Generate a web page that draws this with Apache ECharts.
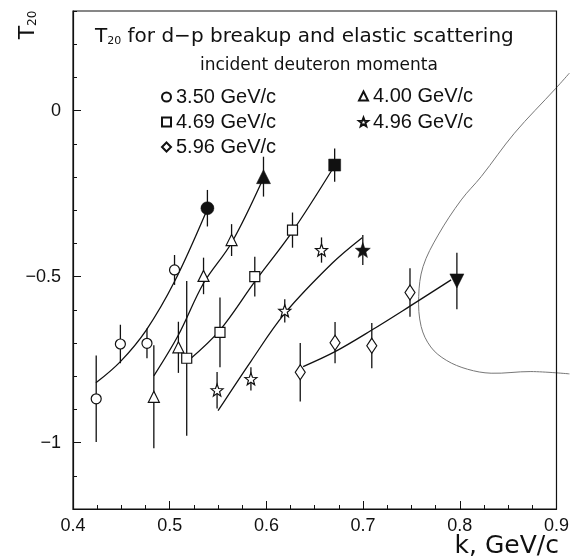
<!DOCTYPE html>
<html><head><meta charset="utf-8">
<script src="https://cdn.jsdelivr.net/npm/echarts@6/dist/echarts.min.js"></script>
<style>html,body{margin:0;padding:0;background:#fff}#c{width:572px;height:559px}</style>
</head><body><div id="c"></div>
<script>
// ---- data ----
const names = ['3.50 GeV/c','4.00 GeV/c','4.69 GeV/c','4.96 GeV/c','5.96 GeV/c'];
const k350 = [0.424, 0.449, 0.4765, 0.505];
const t350 = [-0.868, -0.703, -0.701, -0.480];
const e350 = [0.13, 0.058, 0.045, 0.045];
const k400 = [0.4836, 0.509, 0.535, 0.564];
const t400 = [-0.862, -0.713, -0.498, -0.390];
const e400 = [0.155, 0.077, 0.055, 0.048];
const k469 = [0.5176, 0.552, 0.588, 0.627];
const t469 = [-0.746, -0.668, -0.500, -0.360];
const e469 = [0.233, 0.105, 0.06, 0.053];
const k496 = [0.549, 0.584, 0.619, 0.657];
const t496 = [-0.842, -0.808, -0.603, -0.420];
const e496 = [0.055, 0.035, 0.035, 0.038];
const k596 = [0.635, 0.671, 0.709, 0.7485];
const t596 = [-0.788, -0.699, -0.708, -0.548];
const e596 = [0.088, 0.062, 0.068, 0.073];
// elastic scattering points (filled), one per momentum
const kEl = [0.539, 0.597, 0.6706, 0.6997, 0.797];
const tEl = [-0.294, -0.199, -0.164, -0.420, -0.513];
const eEl = [0.055, 0.06, 0.05, 0.045, 0.085];
// fit curves
const fit350 = [[0.4237,-0.82],[0.449,-0.756],[0.4758,-0.661],[0.505,-0.515],[0.537,-0.31]];
const fit400 = [[0.4836,-0.799],[0.509,-0.676],[0.535,-0.520],[0.564,-0.398],[0.596,-0.209]];
const fit469 = [[0.520,-0.751],[0.552,-0.661],[0.588,-0.515],[0.6267,-0.365],[0.6678,-0.179]];
const fit496 = [[0.550,-0.904],[0.584,-0.755],[0.619,-0.611],[0.668,-0.460],[0.699,-0.383]];
const fit596 = [[0.638,-0.771],[0.671,-0.726],[0.709,-0.661],[0.7485,-0.589],[0.791,-0.510]];
// elastic theory curve
const elCurve = [[0.9134,0.113],[0.8993,0.067],[0.8565,-0.068],[0.8221,-0.199],[0.8015,-0.269],[0.7776,-0.375],[0.7620,-0.470],[0.7575,-0.560],[0.7600,-0.650],[0.7700,-0.712],[0.7860,-0.752],[0.8080,-0.779],[0.8324,-0.791],[0.8735,-0.786],[0.9134,-0.793]];
const yLabelValues = [-1, -0.5, 0];

// ---- styling helpers ----
function starPath(){
  let d = '';
  for (let i = 0; i < 10; i++){
    const r = i % 2 ? 0.42 : 1;
    const a = -Math.PI/2 + i*Math.PI/5;
    const x = (50 + 50*r*Math.cos(a)).toFixed(2), y = (52 + 50*r*Math.sin(a)).toFixed(2);
    d += (i ? 'L' : 'M') + x + ' ' + y + ' ';
  }
  return 'path://' + d + 'Z';
}
const STAR = starPath();
const openSym = [
  {symbol:'circle', size:10},
  {symbol:'triangle', size:11},
  {symbol:'rect', size:10},
  {symbol:STAR, size:12},
  {symbol:'diamond', size:[10,15]}
];
const elSym = [
  {symbol:'circle', size:13, rot:0},
  {symbol:'triangle', size:14, rot:0},
  {symbol:'rect', size:12, rot:0},
  {symbol:STAR, size:15, rot:0},
  {symbol:'triangle', size:14, rot:180}
];
const groups = [[k350,t350,e350,fit350],[k400,t400,e400,fit400],[k469,t469,e469,fit469],[k496,t496,e496,fit496],[k596,t596,e596,fit596]];

function errRender(params, api){
  const x = api.value(0), y = api.value(1), e = api.value(2);
  const p1 = api.coord([x, y + e]), p2 = api.coord([x, y - e]);
  return {type:'line', shape:{x1:p1[0], y1:p1[1], x2:p2[0], y2:p2[1]}, style:{stroke:'#111', lineWidth:1.3}};
}
function curveRender(params, api){
  if (params.dataIndex !== 0) return null;
  const pts = elCurve.map(p => api.coord(p));
  return {type:'polyline', shape:{points:pts, smooth:0.35}, style:{stroke:'#777', lineWidth:1, fill:null}};
}
function frameRender(params, api){
  const cs = params.coordSys;
  return {type:'rect', shape:{x:cs.x, y:cs.y, width:cs.width, height:cs.height},
    style:{stroke:'#111', lineWidth:1.2, fill:null}};
}

const series = [];
series.push({type:'custom', renderItem:frameRender, data:[[0.4,-1.2]], encode:{x:0,y:1}, clip:false, z:10, silent:true});
series.push({type:'custom', renderItem:curveRender, data:elCurve, encode:{x:0,y:1}, clip:false, z:1, silent:true});
groups.forEach((g, i) => {
  const [ks, ts, es, fit] = g;
  series.push({type:'line', data:fit, symbol:'none', smooth:0.35, lineStyle:{color:'#111', width:1.3}, z:2, silent:true});
  series.push({type:'custom', renderItem:errRender, data:ks.map((k,j)=>[k, ts[j], es[j]]), encode:{x:0,y:1}, z:3, silent:true});
  series.push({type:'scatter', name:names[i], data:ks.map((k,j)=>[k, ts[j]]),
    symbol:openSym[i].symbol, symbolSize:openSym[i].size,
    itemStyle:{color:'#fff', borderColor:'#111', borderWidth:1.2, opacity:1}, z:5});
});
series.push({type:'custom', renderItem:errRender, data:kEl.map((k,j)=>[k, tEl[j], eEl[j]]), encode:{x:0,y:1}, z:3, silent:true});
series.push({type:'scatter', data:kEl.map((k,j)=>({value:[k, tEl[j]], symbol:elSym[j].symbol, symbolSize:elSym[j].size, symbolRotate:elSym[j].rot})),
  itemStyle:{color:'#111', borderColor:'#111', borderWidth:0.5, opacity:1}, z:6});

const legendPos = [[161,87],[358,86],[161,112],[358,112],[161,137]];
const legends = names.map((n,i)=>({
  data:[n], left:legendPos[i][0], top:legendPos[i][1], orient:'horizontal', padding:0,
  itemWidth:9, itemHeight:9, selectedMode:false,
  textStyle:{fontSize:20, fontFamily:'Liberation Sans', color:'#111', lineHeight:20}
}));

const axisLineStyle = {color:'#111', width:1.2};
const chart = echarts.init(document.getElementById('c'), null, {renderer:'canvas'});
chart.setOption({
  animation:false,
  backgroundColor:'#fff',
  grid:{left:73, right:13, top:11, bottom:50},
  legend:legends,
  xAxis:{type:'value', min:0.4, max:0.9, interval:0.1,
    axisLine:{show:true, onZero:false, lineStyle:axisLineStyle},
    axisTick:{inside:true, length:8, lineStyle:{color:'#111'}},
    minorTick:{show:true, splitNumber:4, length:4, lineStyle:{color:'#111'}},
    splitLine:{show:false},
    axisLabel:{fontSize:18, fontFamily:'Liberation Sans', color:'#111', margin:8, formatter:v=>v.toFixed(1)}
  },
  yAxis:[
    {type:'value', min:-1.2, max:0.3,
      axisLine:{show:true, onZero:false, lineStyle:axisLineStyle},
      axisTick:{inside:true, length:8, customValues:yLabelValues, lineStyle:{color:'#111'}},
      splitLine:{show:false},
      axisLabel:{customValues:yLabelValues, fontSize:18, fontFamily:'Liberation Sans', color:'#111', margin:12,
        formatter:v=> Math.abs(v) < 1e-9 ? '0' : (v < 0 ? '\u2212' + Math.abs(v) : String(v))}
    },
    {type:'value', min:-1.2, max:0.3, interval:0.1, position:'left',
      axisLine:{show:false, onZero:false}, axisLabel:{show:false}, splitLine:{show:false},
      axisTick:{inside:true, length:4, lineStyle:{color:'#111'}}
    }
  ],
  graphic:[
    {type:'text', left:95, top:27, style:{
      text:'{t|T}{s|20}{t| for d\u2212p breakup and elastic scattering}',
      rich:{t:{fontSize:20, fontFamily:'DejaVu Sans', fill:'#111'}, s:{fontSize:11, fontFamily:'DejaVu Sans', fill:'#111', padding:[8,0,0,0]}}
    }},
    {type:'text', left:200, top:57, style:{text:'incident deuteron momenta', fontSize:17, fontFamily:'DejaVu Sans', fill:'#111'}},
    {type:'text', x:559, y:546, style:{text:'k, GeV/c', fontSize:25, fontFamily:'DejaVu Sans', fill:'#111', align:'right', verticalAlign:'middle'}},
    {type:'text', x:28, y:25, rotation:Math.PI/2, style:{
      text:'{t|T}{s|20}', align:'center', verticalAlign:'middle',
      rich:{t:{fontSize:22, fontFamily:'DejaVu Sans', fill:'#111'}, s:{fontSize:12, fontFamily:'DejaVu Sans', fill:'#111', padding:[9,0,0,0]}}
    }}
  ],
  series:series
});
</script>
</body></html>
